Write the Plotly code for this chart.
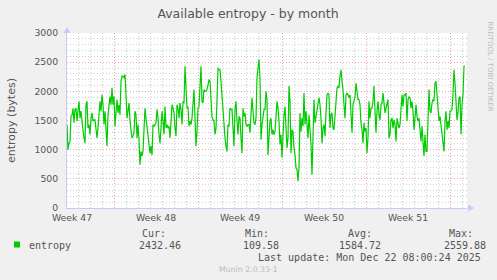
import plotly.graph_objects as go
import pandas as pd

# ---------------- data ----------------
title_text = "Available entropy - by month"
y_label = "entropy (bytes)"
series_name = "entropy"
start_time = "2025-11-20 02:00"   # first sample
sample_step = "2h"                # munin month resolution

entropy = [
    # Nov 20 - Nov 25
    1430, 1000, 1110, 1140, 1570, 1590, 1710, 1460, 1690, 1710, 1490, 1660, 1830, 1540, 1660, 1490,
    1260, 1200, 1110, 1770, 1830, 1370, 1430, 1260, 1540, 1630, 1490, 1510, 1510, 1370, 1200, 1370,
    1710, 1830, 1660, 1940, 1770, 1430, 1660, 1370, 1060, 1600, 1800, 1910, 1770, 2060, 1770, 1910,
    1400, 1710, 1860, 1630, 1770, 1600, 2170, 2260, 2260, 2230, 2290, 1940, 1540, 1660, 1800, 1490,
    1310, 1200, 1230,
    # Nov 25 - Dec 1
    1290, 1660, 1600, 1200, 1430, 1170, 740, 970, 890, 970, 1430, 1710, 1540, 1370, 1200, 1030,
    940, 1060, 910, 1430, 1400, 1430, 1460, 1690, 1540, 1260, 1110, 1370, 1660, 1490, 1260, 1740,
    1370, 1430, 1370, 1400, 1200, 1460, 1770, 1710, 1630, 1370, 1230, 1770, 1710, 1540, 1800, 1690,
    1430, 1830, 1800, 2430, 1940, 1710, 1740, 1400, 1490, 1430, 1540, 1830, 2030, 1540, 1060, 1310,
    1710, 1740,
    # Dec 1 - Dec 6
    2000, 2430, 1830, 1800, 2030, 2000, 2000, 2030, 2110, 2200, 2170, 1710, 1570, 1510, 1490, 1260,
    1370, 1860, 2400, 2370, 2370, 2170, 1890, 1660, 1370, 1200, 1060, 970, 1430, 1400, 1710, 1690,
    1690, 1370, 1060, 1690, 1830, 1490, 1260, 1570, 1540, 1200, 940, 1710, 1570, 1630, 1430, 1400,
    1430, 1430, 1290, 1600, 1890, 1660, 1460, 1430, 1540, 2230, 2460, 2550, 2200, 1170, 1430, 1540,
    1690, 1690,
    # Dec 6 - Dec 12
    2000, 1860, 910, 1200, 1490, 1540, 1260, 1340, 1260, 1310, 1630, 1830, 1710, 1490, 1090, 1260,
    860, 1260, 1600, 1740, 1370, 1030, 1200, 2090, 1830, 940, 1340, 1310, 1030, 910, 690, 660,
    460, 690, 1630, 1310, 1540, 1400, 1970, 1430, 1660, 1490, 1200, 1600, 1370, 1090, 570, 1370,
    1860, 1460, 1570, 1710, 1860, 1890, 1770, 1540, 1110, 1370, 1430, 1230, 1630, 1940, 1970, 1940,
    1370, 1600,
    # Dec 12 - Dec 17
    1630, 1370, 1340, 1630, 1970, 2060, 2090, 2060, 2260, 2370, 2170, 2030, 1770, 1540, 1940, 1970,
    1940, 1890, 1940, 1600, 1290, 1770, 1830, 1910, 2140, 1940, 1860, 1860, 1770, 1460, 1340, 1110,
    1460, 1310, 1370, 940, 1200, 1830, 1540, 1710, 1710, 1830, 2090, 1660, 1290, 1660, 1830, 1600,
    1510, 1770, 1800, 1970, 1740, 1630, 1710, 1830, 1860, 1200, 1260, 1510, 1540, 1370, 1510, 1430,
    1140, 1540,
    # Dec 17 - Dec 23
    1430, 1370, 1430, 1630, 1940, 1740, 1940, 1940, 1970, 1490, 1860, 1910, 1890, 1710, 1830, 1660,
    1340, 1540, 1770, 1570, 1490, 1540, 1370, 1140, 1400, 1030, 890, 1260, 970, 970, 1430, 2030,
    1660, 1630, 1800, 1860, 1830, 2140, 2170, 1940, 1830, 1490, 1570, 1430, 1260, 1090, 970, 1490,
    1660, 1340, 1490, 1370, 1660, 1660, 1690, 1940, 2370, 2140, 1660, 1510, 1630, 1890, 1910, 1260,
    1770, 1940, 2430, 2430,
]

x_range = ["2025-11-20 02:00", "2025-12-23 10:00"]
week_starts = ["2025-11-17", "2025-11-24", "2025-12-01", "2025-12-08", "2025-12-15", "2025-12-22"]
week_label_pos = ["2025-11-20 12:00", "2025-11-27 12:00", "2025-12-04 12:00",
                  "2025-12-11 12:00", "2025-12-18 12:00"]
week_labels = ["Week 47", "Week 48", "Week 49", "Week 50", "Week 51"]
y_ticks = [0, 500, 1000, 1500, 2000, 2500, 3000]
y_range = [0, 3000]

stat_names = ["Cur:", "Min:", "Avg:", "Max:"]
stat_values = ["2432.46", "109.58", "1584.72", "2559.88"]
last_update = "Last update: Mon Dec 22 08:00:24 2025"
footer = "Munin 2.0.33-1"
watermark = "RRDTOOL / TOBI OETIKER"

# ---------------- layout helpers ----------------
W, H = 497, 280
ML, MR, MT, MB = 67, 30, 33, 72
PW, PH = W - ML - MR, H - MT - MB


def px(x):
    return (x - ML) / PW


def py(y):
    return (H - MB - y) / PH


times = pd.date_range(start=start_time, periods=len(entropy), freq=sample_step)

TXT = "#555555"
GREEN = "#00CC00"
MINOR = "#D0D0D0"
MAJOR = "#EBA3A3"
AXIS = "#C8C8FF"
DASH = "1px,2px"

fig = go.Figure()
fig.add_trace(go.Scatter(x=times, y=entropy, mode="lines", name=series_name,
                         line=dict(color=GREEN, width=1.2), hoverinfo="skip"))
# carrier trace for the label axis
fig.add_trace(go.Scatter(x=pd.to_datetime(week_label_pos), y=[None] * len(week_label_pos),
                         xaxis="x2", mode="lines", hoverinfo="skip", showlegend=False))

fig.update_layout(
    width=W, height=H,
    margin=dict(l=ML, r=MR, t=MT, b=MB, pad=0),
    paper_bgcolor="#F0F0F0", plot_bgcolor="#FFFFFF",
    showlegend=False,
    font=dict(family="DejaVu Sans", color=TXT),
    title=dict(text=title_text, x=248 / W, xanchor="center",
               y=1 - 14 / H, yanchor="middle",
               font=dict(family="DejaVu Sans", size=12.5, color=TXT)),
    xaxis=dict(
        type="date", range=x_range, tickvals=week_starts, showticklabels=False,
        showgrid=True, gridcolor=MAJOR, griddash=DASH, gridwidth=1,
        minor=dict(dtick=86400000, tick0="2025-11-17", showgrid=True,
                   gridcolor=MINOR, griddash=DASH, gridwidth=1),
        showline=True, linecolor=AXIS, linewidth=1, zeroline=False, ticks="",
        fixedrange=True,
    ),
    xaxis2=dict(
        type="date", range=x_range, overlaying="x", anchor="y", side="bottom",
        tickvals=week_label_pos, ticktext=week_labels, showgrid=False, showline=False,
        ticks="", ticklabelstandoff=3,
        tickfont=dict(family="DejaVu Sans", size=9.3, color=TXT),
        zeroline=False,
    ),
    yaxis=dict(
        range=y_range, tickvals=y_ticks, showgrid=True, gridcolor=MAJOR,
        griddash=DASH, gridwidth=1,
        minor=dict(dtick=100, showgrid=True, gridcolor=MINOR, griddash=DASH, gridwidth=1),
        showline=True, linecolor=AXIS, linewidth=1, zeroline=False, ticks="",
        ticklabelstandoff=6,
        tickfont=dict(family="DejaVu Sans", size=9.3, color=TXT),
        title=dict(text=y_label, standoff=16, font=dict(family="DejaVu Sans", size=11, color=TXT)),
    ),
)

# axis arrows
fig.add_shape(type="path", xref="paper", yref="paper",
              path=f"M {px(63.5)},{py(33)} L {px(70.5)},{py(33)} L {px(67)},{py(27)} Z",
              fillcolor=AXIS, line=dict(width=0))
fig.add_shape(type="path", xref="paper", yref="paper",
              path=f"M {px(468)},{py(204.5)} L {px(468)},{py(211.5)} L {px(474)},{py(208)} Z",
              fillcolor=AXIS, line=dict(width=0))

# legend swatch
fig.add_shape(type="rect", xref="paper", yref="paper",
              x0=px(14), x1=px(20), y0=py(247.5), y1=py(241.5),
              fillcolor=GREEN, line=dict(width=0))

MONO = "DejaVu Sans Mono"


def text(s, x, y, size=10, color=TXT, family=MONO, xanchor="left", angle=0):
    fig.add_annotation(text=s, x=px(x), y=py(y), xref="paper", yref="paper",
                       xanchor=xanchor, yanchor="middle", showarrow=False,
                       textangle=angle, font=dict(family=family, size=size, color=color))


text(series_name, 27, 245.7)
name_x = [140, 243, 346, 447]
value_x = [137, 241, 337, 442]
for n, v, nx, vx in zip(stat_names, stat_values, name_x, value_x):
    text(n, nx, 233.5)
    text(v, vx, 245.7)
text(last_update, 483, 257.7, xanchor="right")
text(footer, 248.5, 269.5, size=7.8, color="#BBBBBB", family="DejaVu Sans", xanchor="center")
text(watermark, 490, 66.5, size=7, color="#BBBBBB", family="DejaVu Sans",
     xanchor="center", angle=90)

fig.write_html("out.html")
